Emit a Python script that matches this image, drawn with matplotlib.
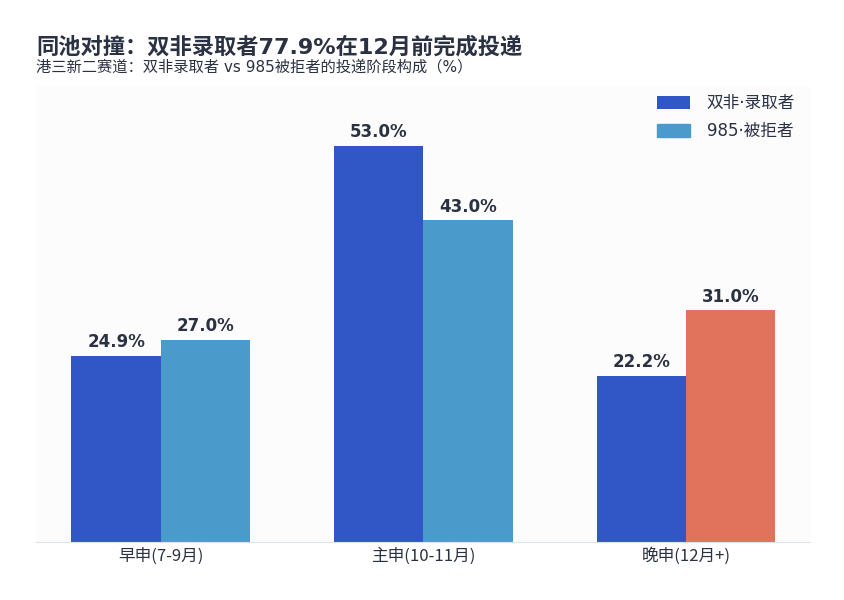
import numpy as np
import matplotlib.pyplot as plt

plt.rcParams['font.family'] = ['DejaVu Sans', 'Noto Sans CJK SC']

categories = ["早申(7-9月)", "主申(10-11月)", "晚申(12月+)"]
shuangfei = [24.9, 53.0, 22.2]
rejected_985 = [27.0, 43.0, 31.0]
series_names = ["双非·录取者", "985·被拒者"]

c_blue = "#3157C7"
c_light = "#4A9ACB"
c_red = "#E1725B"
c_text = "#2A3142"

x = np.arange(len(categories))
w = 0.34

fig = plt.figure(figsize=(8.44, 6.0), dpi=100)
ax = fig.add_axes([0.043, 0.097, 0.917, 0.76])
ax.set_facecolor("#FCFCFD")

b1 = ax.bar(x - w / 2, shuangfei, w, color=c_blue, label=series_names[0])
colors2 = [c_light, c_light, c_red]
b2 = ax.bar(x + w / 2, rejected_985, w, color=colors2, label=series_names[1])

for bars, vals in [(b1, shuangfei), (b2, rejected_985)]:
    for b, v in zip(bars, vals):
        ax.text(b.get_x() + b.get_width() / 2, v + 0.6, f"{v:.1f}%",
                ha="center", va="bottom", fontsize=12, fontweight="bold",
                color=c_text)

ax.set_ylim(0, 61)
ax.set_xticks(x)
ax.set_xticklabels(categories, fontsize=12, color=c_text,
                   family=['Noto Sans CJK SC', 'DejaVu Sans'])
ax.tick_params(axis="x", length=0, pad=4)
ax.set_yticks([])
for s in ["top", "right", "left"]:
    ax.spines[s].set_visible(False)
ax.spines["bottom"].set_color("#DDE3EA")

leg = ax.legend(loc="upper right", frameon=False,
                handlelength=2.0, handleheight=0.8, handletextpad=1.0,
                labelspacing=0.6, bbox_to_anchor=(1.0, 1.015),
                prop={'family': ['DejaVu Sans', 'Noto Sans CJK SC'], 'size': 12})
for t in leg.get_texts():
    t.set_color(c_text)
leg.legend_handles[1].set_color(c_light)

fig.text(0.043, 0.91, "同池对撞：双非录取者77.9%在12月前完成投递",
         fontsize=16, fontweight="bold", color=c_text,
         family=['DejaVu Sans', 'Noto Sans CJK SC'])
fig.text(0.043, 0.88, "港三新二赛道：双非录取者 vs 985被拒者的投递阶段构成（%）",
         fontsize=11, color=c_text, family=['DejaVu Sans', 'Noto Sans CJK SC'])

fig.savefig("out.png", dpi=100)
